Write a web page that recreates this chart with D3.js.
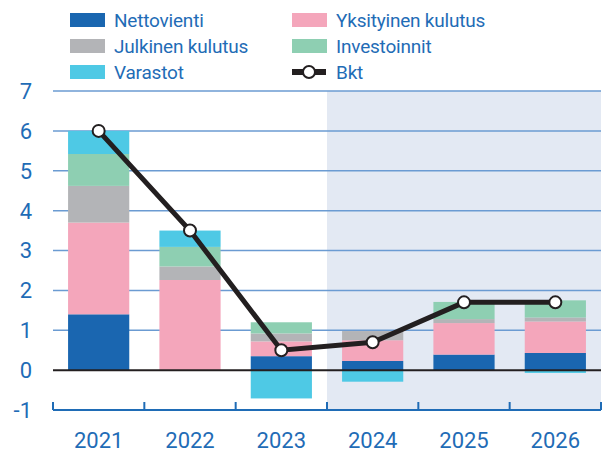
<!DOCTYPE html>
<html>
<head>
<meta charset="utf-8">
<script src="https://cdn.jsdelivr.net/npm/d3@7"></script>
<style>
  body { margin: 0; background: #fff; }
  text { font-family: Roboto, "Liberation Sans", sans-serif; }
</style>
</head>
<body>
<div id="chart"></div>
<script>
// data
var years = ["2021", "2022", "2023", "2024", "2025", "2026"];
var nettovienti = [1.40, 0.0, 0.35, 0.23, 0.39, 0.43];
var yksityinen = [2.30, 2.26, 0.37, 0.52, 0.79, 0.79];
var julkinen = [0.92, 0.34, 0.20, 0.23, 0.10, 0.10];
var investoinnit = [0.80, 0.49, 0.28, 0.0, 0.43, 0.43];
var varastot = [0.58, 0.41, -0.71, -0.29, 0.0, -0.07];
var bkt = [6.0, 3.5, 0.5, 0.7, 1.7, 1.7];
var yTicks = [-1, 0, 1, 2, 3, 4, 5, 6, 7];
var forecastFrom = "2024";

var series = [
  { name: "Nettovienti", values: nettovienti, color: "#1a66b0" },
  { name: "Yksityinen kulutus", values: yksityinen, color: "#f4a6bb" },
  { name: "Julkinen kulutus", values: julkinen, color: "#b3b4b7" },
  { name: "Investoinnit", values: investoinnit, color: "#8ecfb2" },
  { name: "Varastot", values: varastot, color: "#4ec9e5" }
];

var width = 603, height = 452;
var margin = { top: 91, right: 2, bottom: 42, left: 53 };
var blue = "#1f6cb6";

var svg = d3.select("#chart").append("svg")
    .attr("width", width)
    .attr("height", height);

var x = d3.scaleBand()
    .domain(years)
    .range([margin.left, width - margin.right])
    .paddingInner(0.33)
    .paddingOuter(0.165);

var y = d3.scaleLinear()
    .domain([-1, 7])
    .range([height - margin.bottom, margin.top]);

var step = x.step();
var bandStart = function(d) { return x(d) - x.paddingInner() * step / 2; };

// forecast shading
svg.append("rect")
    .attr("x", bandStart(forecastFrom))
    .attr("y", y(7))
    .attr("width", width - margin.right - bandStart(forecastFrom))
    .attr("height", y(-1) - y(7))
    .attr("fill", "#e3e9f3");

// grid lines
svg.append("g")
  .selectAll("line")
  .data(yTicks.filter(function(d) { return d > -1 && d !== 0; }))
  .enter().append("line")
    .attr("x1", margin.left)
    .attr("x2", width - margin.right)
    .attr("y1", function(d) { return y(d); })
    .attr("y2", function(d) { return y(d); })
    .attr("stroke", "#6b9bd2")
    .attr("stroke-width", 1.5);

// y labels
svg.append("g")
  .selectAll("text")
  .data(yTicks)
  .enter().append("text")
    .attr("x", 32)
    .attr("y", function(d) { return y(d); })
    .attr("dy", "0.36em")
    .attr("text-anchor", "end")
    .attr("fill", blue)
    .style("font-size", "22px")
    .text(function(d) { return d; });

// stacked bars, positives up and negatives down
var barData = [];
years.forEach(function(yr, i) {
  var pos = 0, neg = 0;
  series.forEach(function(s) {
    var v = s.values[i];
    if (v >= 0) { barData.push({ year: yr, y0: pos, y1: pos + v, color: s.color }); pos += v; }
    else { barData.push({ year: yr, y0: neg + v, y1: neg, color: s.color }); neg += v; }
  });
});

svg.append("g")
  .selectAll("rect")
  .data(barData)
  .enter().append("rect")
    .attr("x", function(d) { return x(d.year); })
    .attr("width", x.bandwidth())
    .attr("y", function(d) { return y(d.y1); })
    .attr("height", function(d) { return y(d.y0) - y(d.y1); })
    .attr("fill", function(d) { return d.color; });

// zero line
svg.append("line")
    .attr("x1", margin.left)
    .attr("x2", width - margin.right)
    .attr("y1", y(0))
    .attr("y2", y(0))
    .attr("stroke", "#231f20")
    .attr("stroke-width", 2);

// x axis with upward ticks at category boundaries
var axisY = y(-1);
svg.append("line")
    .attr("x1", margin.left)
    .attr("x2", width - margin.right)
    .attr("y1", axisY)
    .attr("y2", axisY)
    .attr("stroke", blue)
    .attr("stroke-width", 2);

var bounds = years.map(bandStart).concat([width - margin.right]);
svg.append("g")
  .selectAll("line")
  .data(bounds)
  .enter().append("line")
    .attr("x1", function(d) { return d; })
    .attr("x2", function(d) { return d; })
    .attr("y1", axisY)
    .attr("y2", axisY - 8)
    .attr("stroke", blue)
    .attr("stroke-width", 2);

svg.append("g")
  .selectAll("text")
  .data(years)
  .enter().append("text")
    .attr("x", function(d) { return x(d) + x.bandwidth() / 2; })
    .attr("y", 448)
    .attr("text-anchor", "middle")
    .attr("fill", blue)
    .style("font-size", "22px")
    .text(function(d) { return d; });

// Bkt line
var line = d3.line()
    .x(function(d, i) { return x(years[i]) + x.bandwidth() / 2; })
    .y(function(d) { return y(d); });

svg.append("path")
    .datum(bkt)
    .attr("d", line)
    .attr("fill", "none")
    .attr("stroke", "#231f20")
    .attr("stroke-width", 5);

svg.append("g")
  .selectAll("circle")
  .data(bkt)
  .enter().append("circle")
    .attr("cx", function(d, i) { return x(years[i]) + x.bandwidth() / 2; })
    .attr("cy", function(d) { return y(d); })
    .attr("r", 6)
    .attr("fill", "#fff")
    .attr("stroke", "#231f20")
    .attr("stroke-width", 2);

// legend
var legendItems = [
  { name: "Nettovienti", color: "#1a66b0", col: 0, row: 0 },
  { name: "Yksityinen kulutus", color: "#f4a6bb", col: 1, row: 0 },
  { name: "Julkinen kulutus", color: "#b3b4b7", col: 0, row: 1 },
  { name: "Investoinnit", color: "#8ecfb2", col: 1, row: 1 },
  { name: "Varastot", color: "#4ec9e5", col: 0, row: 2 },
  { name: "Bkt", color: null, col: 1, row: 2 }
];
var colX = [70, 292];

var leg = svg.append("g")
  .selectAll("g")
  .data(legendItems)
  .enter().append("g")
    .attr("transform", function(d) { return "translate(" + colX[d.col] + "," + (20 + d.row * 26) + ")"; });

leg.filter(function(d) { return d.color; })
  .append("rect")
    .attr("x", 0)
    .attr("y", -7)
    .attr("width", 35)
    .attr("height", 14)
    .attr("fill", function(d) { return d.color; });

var bktLeg = leg.filter(function(d) { return !d.color; });
bktLeg.append("line")
    .attr("x1", 0).attr("x2", 34)
    .attr("y1", 0).attr("y2", 0)
    .attr("stroke", "#231f20")
    .attr("stroke-width", 6);
bktLeg.append("circle")
    .attr("cx", 17).attr("cy", 0).attr("r", 6)
    .attr("fill", "#fff")
    .attr("stroke", "#231f20")
    .attr("stroke-width", 2);

leg.append("text")
    .attr("x", 44)
    .attr("y", 0)
    .attr("dy", "0.36em")
    .attr("fill", blue)
    .style("font-size", "19px")
    .style("letter-spacing", "-0.2px")
    .text(function(d) { return d.name; });
</script>
</body>
</html>
